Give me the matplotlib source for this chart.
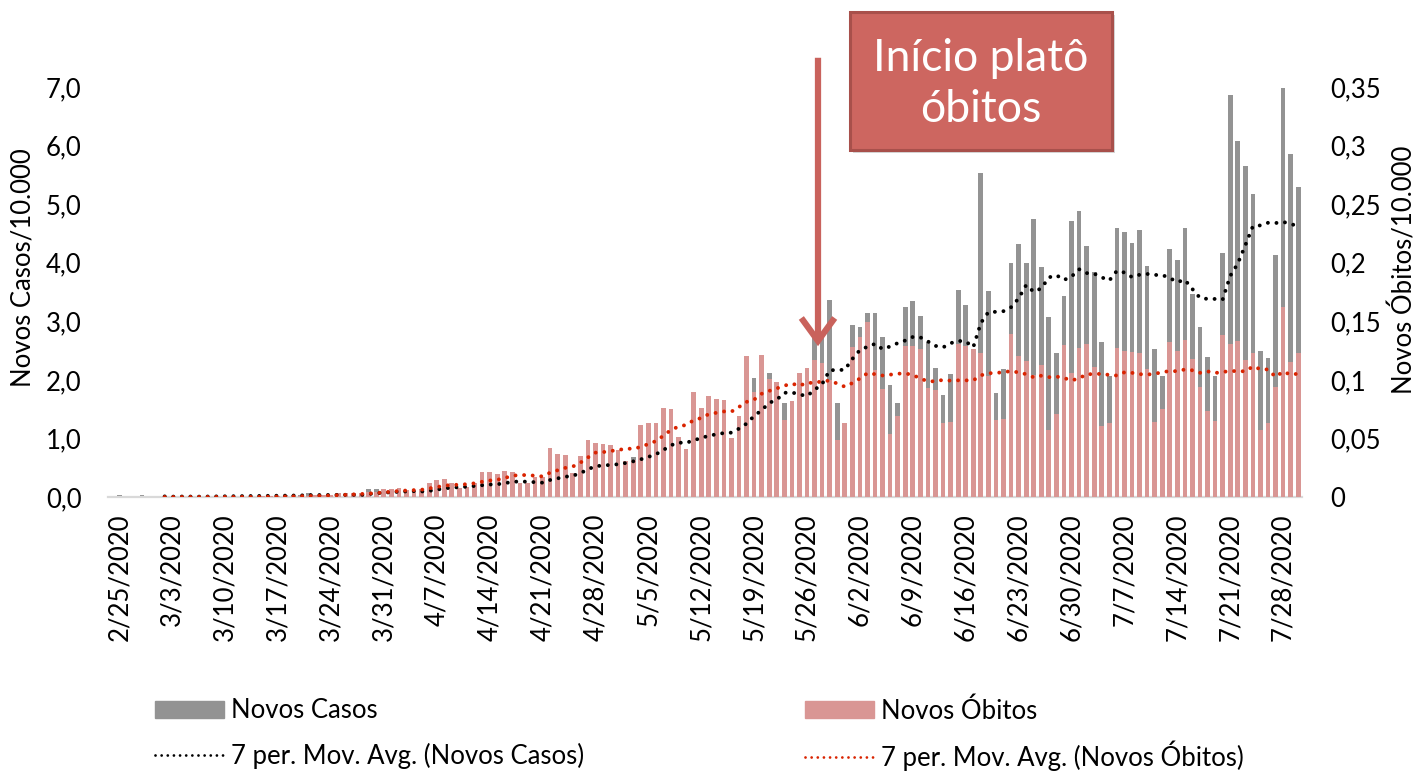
import matplotlib
matplotlib.use("Agg")
import matplotlib.pyplot as plt
import numpy as np
import pandas as pd
from matplotlib.patches import Rectangle, FancyBboxPatch, FancyArrowPatch
from matplotlib.lines import Line2D

# ---------------- data ----------------
# daily values from 2/25/2020 to 7/30/2020 (157 days)
novos_casos = [
    0.03, 0.0, 0.0, 0.03, 0.0, 0.005, 0.005, 0.005, 0.005, 0.01,
    0.01, 0.01, 0.01, 0.01, 0.015, 0.015, 0.02, 0.02, 0.02, 0.02,
    0.025, 0.025, 0.03, 0.03, 0.035, 0.06, 0.03, 0.035, 0.03, 0.035,
    0.035, 0.04, 0.04, 0.14, 0.13, 0.09, 0.09, 0.10, 0.07, 0.08,
    0.10, 0.20, 0.23, 0.24, 0.20, 0.12, 0.14, 0.19, 0.30, 0.30,
    0.27, 0.32, 0.30, 0.17, 0.17, 0.24, 0.24, 0.59, 0.51, 0.50,
    0.28, 0.49, 0.68, 0.65, 0.63, 0.62, 0.56, 0.43, 0.69, 0.92,
    0.94, 0.94, 1.14, 1.12, 0.76, 0.62, 1.30, 1.12, 1.30, 1.25,
    1.30, 0.80, 1.10, 1.90, 2.03, 2.00, 2.11, 1.70, 1.61, 1.15,
    1.65, 1.85, 2.74, 2.80, 3.36, 1.61, 1.20, 2.94, 2.91, 3.14,
    3.14, 2.74, 1.92, 1.60, 3.25, 3.34, 3.09, 2.65, 2.21, 1.74,
    2.10, 3.53, 3.27, 2.40, 5.54, 3.52, 1.77, 2.18, 4.00, 4.32,
    4.00, 4.74, 3.92, 3.08, 2.45, 3.43, 4.72, 4.88, 4.28, 3.85,
    2.64, 2.07, 4.59, 4.52, 4.33, 4.56, 3.95, 2.52, 2.06, 4.23,
    4.04, 4.59, 3.46, 2.90, 2.39, 2.06, 4.16, 6.86, 6.07, 5.65,
    5.17, 2.49, 2.37, 4.13, 6.99, 5.86, 5.30,
]
novos_obitos = [
    0, 0, 0, 0, 0, 0, 0, 0, 0, 0,
    0, 0, 0, 0, 0, 0, 0, 0.0003, 0.0003, 0.0005,
    0.0005, 0.0008, 0.0008, 0.0008, 0.001, 0.0012, 0.0015, 0.0015, 0.002, 0.003,
    0.003, 0.0035, 0.0035, 0.004, 0.0045, 0.0065, 0.0065, 0.008, 0.006, 0.0055,
    0.0065, 0.0122, 0.0145, 0.0151, 0.0122, 0.0074, 0.0088, 0.0117, 0.0216, 0.0216,
    0.0196, 0.0225, 0.0216, 0.0122, 0.0122, 0.0174, 0.0174, 0.0421, 0.0367, 0.0359,
    0.0202, 0.0350, 0.0487, 0.0464, 0.0450, 0.0441, 0.0401, 0.0310, 0.0316, 0.0615,
    0.0629, 0.0629, 0.0763, 0.0748, 0.0509, 0.0413, 0.0896, 0.0763, 0.086, 0.084,
    0.083, 0.050, 0.069, 0.120, 0.090, 0.121, 0.101, 0.098, 0.066, 0.082,
    0.106, 0.110, 0.117, 0.114, 0.100, 0.049, 0.063, 0.128, 0.137, 0.149,
    0.108, 0.092, 0.054, 0.069, 0.129, 0.129, 0.126, 0.093, 0.091, 0.063,
    0.064, 0.131, 0.129, 0.126, 0.123, 0.103, 0.066, 0.067, 0.139, 0.120,
    0.116, 0.104, 0.113, 0.057, 0.071, 0.130, 0.106, 0.127, 0.131, 0.111,
    0.061, 0.063, 0.127, 0.125, 0.124, 0.123, 0.109, 0.064, 0.075, 0.132,
    0.125, 0.134, 0.118, 0.094, 0.073, 0.065, 0.138, 0.131, 0.133, 0.117,
    0.123, 0.057, 0.063, 0.094, 0.162, 0.115, 0.123,
]
tick_labels = [
    "2/25/2020", "3/3/2020", "3/10/2020", "3/17/2020", "3/24/2020", "3/31/2020",
    "4/7/2020", "4/14/2020", "4/21/2020", "4/28/2020", "5/5/2020", "5/12/2020",
    "5/19/2020", "5/26/2020", "6/2/2020", "6/9/2020", "6/16/2020", "6/23/2020",
    "6/30/2020", "7/7/2020", "7/14/2020", "7/21/2020", "7/28/2020",
]
left_ticks = [0, 1, 2, 3, 4, 5, 6, 7]
left_tick_labels = ["0,0", "1,0", "2,0", "3,0", "4,0", "5,0", "6,0", "7,0"]
right_ticks = [0, 0.05, 0.1, 0.15, 0.2, 0.25, 0.3, 0.35]
right_tick_labels = ["0", "0,05", "0,1", "0,15", "0,2", "0,25", "0,3", "0,35"]

# ---------------- style ----------------
FONT = ["Lato", "DejaVu Sans"]
plt.rcParams["font.family"] = FONT
FS = 18.5
GRAY = "#939393"
PINK = "#D99694"
RED_MA = "#D92300"
BOX = "#CD6660"

W, H = 1420, 772
fig = plt.figure(figsize=(W / 100, H / 100), dpi=100)
ax = fig.add_axes([108 / W, 1 - 497 / H, 1194 / W, 410 / H])
ax2 = ax.twinx()

x = np.arange(len(novos_casos))
ax.bar(x, novos_casos, width=0.62, color=GRAY, zorder=1)
ax2.bar(x, novos_obitos, width=0.62, color=PINK, zorder=1)

ma_casos = pd.Series(novos_casos).rolling(7).mean()
ma_obitos = pd.Series(novos_obitos).rolling(7).mean()
dot = (0, (0.01, 2.2))
ax2.plot(x, ma_casos, transform=ax.transData, color="black", lw=2.8,
         linestyle=dot, dash_capstyle="round", zorder=3)
ax2.plot(x, ma_obitos, color=RED_MA, lw=2.8, linestyle=dot,
         dash_capstyle="round", zorder=4)

ax.set_xlim(-1.5, len(novos_casos) - 0.5)
ax.set_ylim(0, 7)
ax2.set_ylim(0, 0.35)

ax.set_xticks(x[::7])
ax.set_xticklabels(tick_labels, rotation=90, fontsize=FS)
ax.set_yticks(left_ticks)
ax.set_yticklabels(left_tick_labels, fontsize=FS)
ax2.set_yticks(right_ticks)
ax2.set_yticklabels(right_tick_labels, fontsize=FS)
ax.tick_params(axis="x", length=0, pad=12)
ax.tick_params(axis="y", length=0, pad=19)
ax2.tick_params(axis="y", length=0, pad=20)

for a in (ax, ax2):
    for s in ("top", "left", "right"):
        a.spines[s].set_visible(False)
ax2.spines["bottom"].set_visible(False)
ax.spines["bottom"].set_color("#d9d9d9")
ax.spines["bottom"].set_linewidth(1.6)

ax.set_ylabel("Novos Casos/10.000", fontsize=FS)
ax.yaxis.set_label_coords(-0.061, 0.56)
ax2.set_ylabel("Novos Óbitos/10.000", fontsize=FS, rotation=90)
ax2.yaxis.set_label_coords(1.0745, 0.555)

# ---------------- legend (one entry per box, placed on a 2x2 grid) ----------------
entries = [
    (Rectangle((0, 0), 1, 1, color=GRAY), "Novos Casos", 155, 711),
    (Rectangle((0, 0), 1, 1, color=PINK), "Novos Óbitos", 805, 711),
    (Line2D([], [], color="black", lw=2.0, linestyle=(0, (0.01, 2.2)),
            dash_capstyle="round"), "7 per. Mov. Avg. (Novos Casos)", 155, 756),
    (Line2D([], [], color=RED_MA, lw=2.0, linestyle=(0, (0.01, 2.2)),
            dash_capstyle="round"), "7 per. Mov. Avg. (Novos Óbitos)", 805, 756),
]
for handle, label, px, py in entries:
    fig.legend([handle], [label], loc="center left",
               bbox_to_anchor=(px / W, 1 - py / H), frameon=False, fontsize=FS,
               handlelength=2.7, handleheight=0.65, handletextpad=0.25,
               borderaxespad=0, borderpad=0)

# ---------------- annotation ----------------
def fx(px):
    return px / W

def fy(py):
    return 1 - py / H

shadow = FancyBboxPatch((fx(853), fy(153)), fx(262), 138 / H,
                        boxstyle="square,pad=0", transform=fig.transFigure,
                        facecolor="#bbbbbb", edgecolor="none", alpha=0.6, zorder=9)
fig.add_artist(shadow)
box = FancyBboxPatch((fx(850), fy(150)), fx(262), 138 / H,
                     boxstyle="square,pad=0", transform=fig.transFigure,
                     facecolor=BOX, edgecolor="#A8504B", lw=2.2, zorder=10)
fig.add_artist(box)
fig.text(fx(981), fy(84), "Início platô\nóbitos", color="white", fontsize=32,
         ha="center", va="center", linespacing=1.32, zorder=11)

arrow = FancyArrowPatch((fx(818), fy(55)), (fx(818), fy(349)),
                        transform=fig.transFigure,
                        arrowstyle="->,head_length=0.55,head_width=0.4",
                        mutation_scale=30, color="#C9625C", lw=4.5,
                        capstyle="butt", joinstyle="miter", zorder=12)
fig.add_artist(arrow)

fig.savefig("out.png", dpi=100)
